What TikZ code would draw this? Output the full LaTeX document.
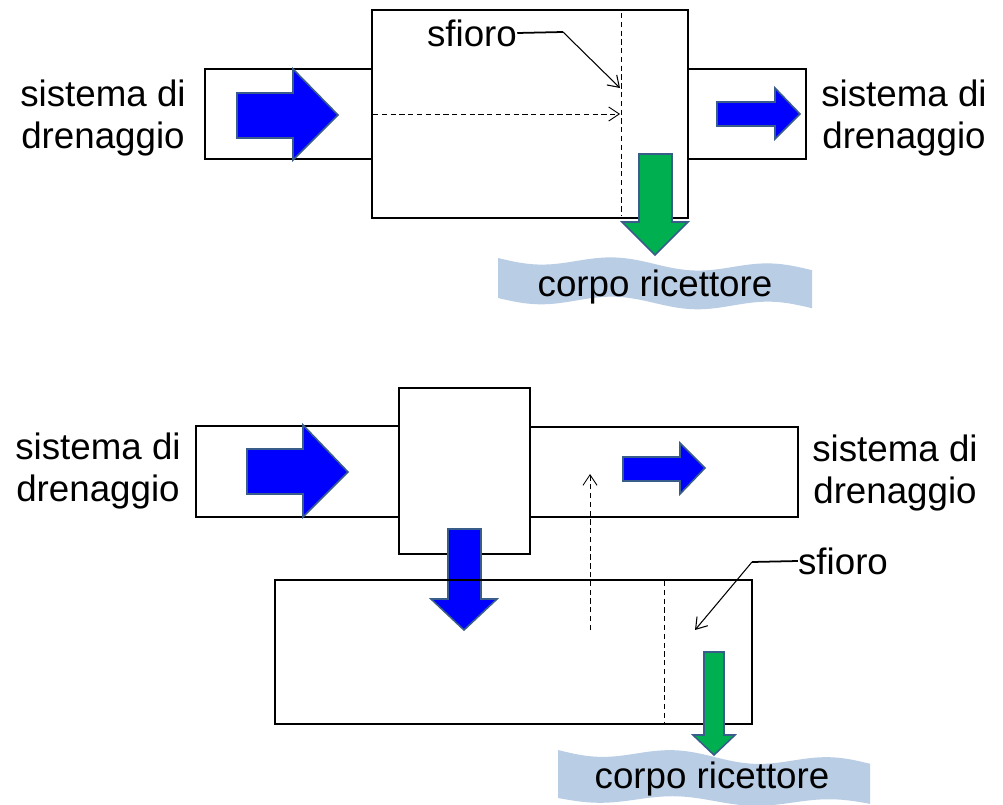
\documentclass[tikz,border=0pt]{standalone}
\usepackage{fontspec}
\setmainfont{Liberation Sans}
\usetikzlibrary{arrows.meta, positioning}

\definecolor{arrowblue}{RGB}{0,0,255}
\definecolor{arrowgreen}{RGB}{0,176,80}
\definecolor{arrowedge}{RGB}{56,93,138}
\definecolor{waterblue}{RGB}{185,205,229}

\tikzset{
  box/.style={draw, line width=1.1pt},
  blockblue/.style={fill=arrowblue, draw=arrowedge, line width=0.9pt},
  blockgreen/.style={fill=arrowgreen, draw=arrowedge, line width=0.9pt},
  weir/.style={line width=0.5pt, dash pattern=on 3pt off 2pt},
  flow/.style={weir, -{Straight Barb[length=6pt,width=8pt]}},
  leader/.style={line width=1pt},
  pointer/.style={line width=0.6pt, -{Straight Barb[length=6pt,width=8pt]}},
  label/.style={font=\fontsize{20.9}{24}\selectfont, align=center, inner sep=0pt},
}

\begin{document}
\begin{tikzpicture}[x=0.02cm, y=-0.02cm]
    \useasboundingbox (0,0) rectangle (1003,804);

    % Upper scheme - overflow inside the tank
    % receiving water body
    \fill[waterblue] plot[domain=498:812, samples=60, smooth] (\x, {258+12*(\x-498)/314+5*sin((\x-498)*2.3)})
        -- plot[domain=812:498, samples=60, smooth] (\x, {298+10*(\x-498)/314+5*sin((\x-498)*2.3)}) -- cycle;
    \node[label] (water1) at (655,287) {corpo ricettore};

    % pipes and tank
    \draw[box] (205,69) rectangle (372,159);
    \draw[box] (688,69) rectangle (806,159);
    \draw[box] (372,10) rectangle (688,218);

    % weir and overflow path
    \draw[weir] (621,13) -- (621,216);
    \coordinate (in1) at (373,114);
    \coordinate (weir1) at (620,114);
    \draw[flow] (in1) -- (weir1);

    % block arrows
    \draw[blockblue] (237,93) -- (293,93) -- (293,69) -- (338,115) -- (293,160) -- (293,138) -- (237,138) -- cycle;
    \draw[blockblue] (717,102) -- (775,102) -- (775,88) -- (800,114) -- (775,139) -- (775,126) -- (717,126) -- cycle;
    \draw[blockgreen] (639,154) -- (672,154) -- (672,222) -- (688,222) -- (655,255) -- (622,222) -- (639,222) -- cycle;

    % labels
    \node[label] (drainL1) at (103,118) {sistema di\\drenaggio};
    \node[label] (drainR1) at (904,118) {sistema di\\drenaggio};
    \node[label] (sfioro1) at (472,33) {sfioro};
    \coordinate (sf1k) at (563,32);
    \coordinate (sf1) at (620,88);
    \draw[leader] (sfioro1.east) -- (sf1k);
    \draw[pointer] (sf1k) -- (sf1);

    % Lower scheme - overflow in a separate tank
    % receiving water body
    \fill[waterblue] plot[domain=558:870, samples=60, smooth] (\x, {750+14*(\x-558)/312+5*sin((\x-558)*2.3)})
        -- plot[domain=870:558, samples=60, smooth] (\x, {798+6*(\x-558)/312+4*sin((\x-558)*2.3)}) -- cycle;
    \node[label] (water2) at (712,779) {corpo ricettore};

    % pipes and tanks
    \draw[box] (196,426) rectangle (399,517);
    \draw[box] (530,427) rectangle (798,517);
    \draw[box] (399,388) rectangle (530,554);
    \draw[blockblue] (448,529) -- (481,529) -- (481,599) -- (497,599) -- (464,630) -- (431,599) -- (448,599) -- cycle;
    \draw[box] (275,580) rectangle (752,724);

    % weir and return path
    \draw[weir] (664,581) -- (664,723);
    \coordinate (ret2) at (590,630);
    \coordinate (pipe2) at (590,474);
    \draw[flow] (ret2) -- (pipe2);

    % block arrows
    \draw[blockblue] (247,449) -- (303,449) -- (303,425) -- (348,472) -- (303,517) -- (303,494) -- (247,494) -- cycle;
    \draw[blockblue] (623,457) -- (680,457) -- (680,443) -- (705,468) -- (680,494) -- (680,481) -- (623,481) -- cycle;
    \draw[blockgreen] (704,652) -- (724,652) -- (724,735) -- (735,735) -- (714,755) -- (693,735) -- (704,735) -- cycle;

    % labels
    \node[label] (drainL2) at (98,471) {sistema di\\drenaggio};
    \node[label] (drainR2) at (895,473) {sistema di\\drenaggio};
    \node[label] (sfioro2) at (843,561) {sfioro};
    \coordinate (sf2k) at (752,562);
    \coordinate (sf2) at (695,630);
    \draw[leader] (sfioro2.west) -- (sf2k);
    \draw[pointer] (sf2k) -- (sf2);
\end{tikzpicture}
\end{document}
